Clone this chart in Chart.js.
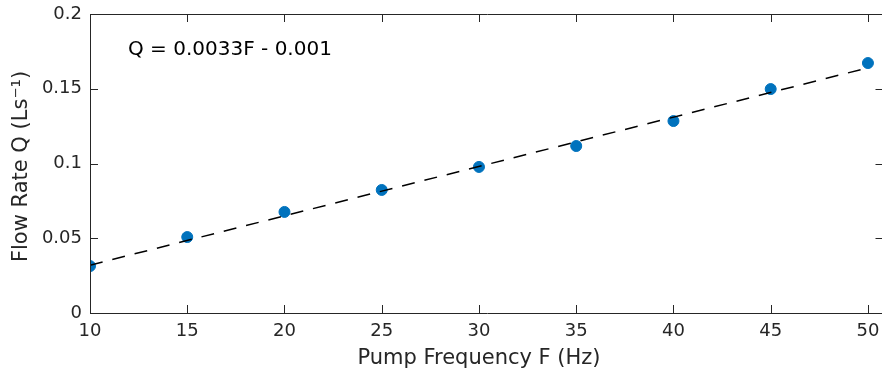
<!DOCTYPE html>
<html>
<head>
<meta charset="utf-8">
<script src="https://cdn.jsdelivr.net/npm/chart.js@4.4.1/dist/chart.umd.min.js"></script>
<style>
  html, body { margin: 0; padding: 0; background: #fff; overflow: hidden; width: 882px; height: 374px; }
  #wrap { width: 882px; height: 374px; overflow: hidden; position: relative; }
  #c { display: block; position: absolute; left: 0; top: 0; }
</style>
</head>
<body>
<div id="wrap"><canvas id="c" width="890" height="374" style="width:890px;height:374px"></canvas></div>
<script>
// Measured data: pump frequency (Hz) vs flow rate (L/s)
const frequencies = [10, 15, 20, 25, 30, 35, 40, 45, 50];
const flowRates = [0.0314, 0.0508, 0.0676, 0.0823, 0.0977, 0.1117, 0.1284, 0.1498, 0.1672];
// Linear fit line endpoints (Q = 0.0033F - 0.001)
const fitX = [10, 50];
const fitY = [0.032, 0.164];
const xTicks = [10, 15, 20, 25, 30, 35, 40, 45, 50];
const yTicks = [0, 0.05, 0.1, 0.15, 0.2];
const yTickLabels = ['0', '0.05', '0.1', '0.15', '0.2'];
const xTitle = 'Pump Frequency F (Hz)';
const yTitle = 'Flow Rate Q (Ls⁻¹)';
const equationText = 'Q = 0.0033F - 0.001';

const textColor = '#262626';
const fontFamily = '"DejaVu Sans", sans-serif';

const boxPlugin = {
  id: 'box',
  afterDatasetsDraw(chart) {
    const { ctx, chartArea: a, scales: { x, y } } = chart;
    ctx.save();
    ctx.strokeStyle = textColor;
    ctx.lineWidth = 1;
    ctx.beginPath();
    ctx.rect(Math.round(a.left) + 0.5, Math.round(a.top) + 0.5,
             Math.round(a.right - a.left), Math.round(a.bottom - a.top));
    ctx.stroke();
    const tl = 8;
    ctx.beginPath();
    xTicks.forEach(v => {
      const px = Math.round(x.getPixelForValue(v)) + 0.5;
      ctx.moveTo(px, a.bottom); ctx.lineTo(px, a.bottom - tl);
      ctx.moveTo(px, a.top); ctx.lineTo(px, a.top + tl);
    });
    yTicks.forEach(v => {
      const py = Math.round(y.getPixelForValue(v)) + 0.5;
      ctx.moveTo(a.left, py); ctx.lineTo(a.left + tl, py);
      ctx.moveTo(a.right, py); ctx.lineTo(a.right - tl, py);
    });
    ctx.stroke();

    // equation annotation
    ctx.fillStyle = '#000';
    ctx.font = '20px ' + fontFamily;
    ctx.textBaseline = 'alphabetic';
    ctx.textAlign = 'left';
    ctx.fillText(equationText, a.left + 38, a.top + 40.5);

    // axis titles
    ctx.fillStyle = textColor;
    ctx.font = '21px ' + fontFamily;
    ctx.textAlign = 'center';
    ctx.fillText(xTitle, (x.getPixelForValue(10) + x.getPixelForValue(50)) / 2, 364);
    ctx.save();
    ctx.translate(27, (a.top + a.bottom) / 2 + 3);
    ctx.rotate(-Math.PI / 2);
    ctx.fillText(yTitle, 0, 0);
    ctx.restore();
    ctx.restore();
  }
};

new Chart(document.getElementById('c'), {
  type: 'scatter',
  data: {
    datasets: [
      {
        label: 'Fit',
        type: 'line',
        data: fitX.map((v, i) => ({ x: v, y: fitY[i] })),
        borderColor: '#000',
        borderWidth: 1.5,
        borderDash: [13, 10],
        pointRadius: 0,
        fill: false,
        order: 0
      },
      {
        label: 'Measured',
        data: frequencies.map((v, i) => ({ x: v, y: flowRates[i] })),
        backgroundColor: '#0072BD',
        borderColor: '#0072BD',
        pointRadius: 5.5,
        pointHoverRadius: 5.5,
        order: 1
      }
    ]
  },
  options: {
    responsive: false,
    maintainAspectRatio: false,
    animation: false,
    layout: { padding: { top: 14, right: 1.5, left: 0, bottom: 0 } },
    plugins: { legend: { display: false }, tooltip: { enabled: false } },
    scales: {
      x: {
        type: 'linear',
        min: 10,
        max: 50.8,
        afterFit: s => { s.height = 61; s.paddingLeft = 0; s.paddingRight = 0; },
        afterBuildTicks: s => { s.ticks = xTicks.map(v => ({ value: v })); },
        grid: { display: false, drawTicks: false },
        border: { display: false },
        ticks: { color: textColor, font: { family: fontFamily, size: 18 }, padding: 8, maxRotation: 0, autoSkip: false },
        title: { display: false }
      },
      y: {
        min: 0,
        max: 0.2,
        afterFit: s => { s.width = 90; s.paddingTop = 0; s.paddingBottom = 0; },
        afterBuildTicks: s => { s.ticks = yTicks.map(v => ({ value: v })); },
        grid: { display: false, drawTicks: false },
        border: { display: false },
        ticks: { color: textColor, font: { family: fontFamily, size: 18 }, padding: 8,
                 callback: (v) => { const i = yTicks.indexOf(v); return i >= 0 ? yTickLabels[i] : ''; } },
        title: { display: false }
      }
    }
  },
  plugins: [boxPlugin]
});
</script>
</body>
</html>
